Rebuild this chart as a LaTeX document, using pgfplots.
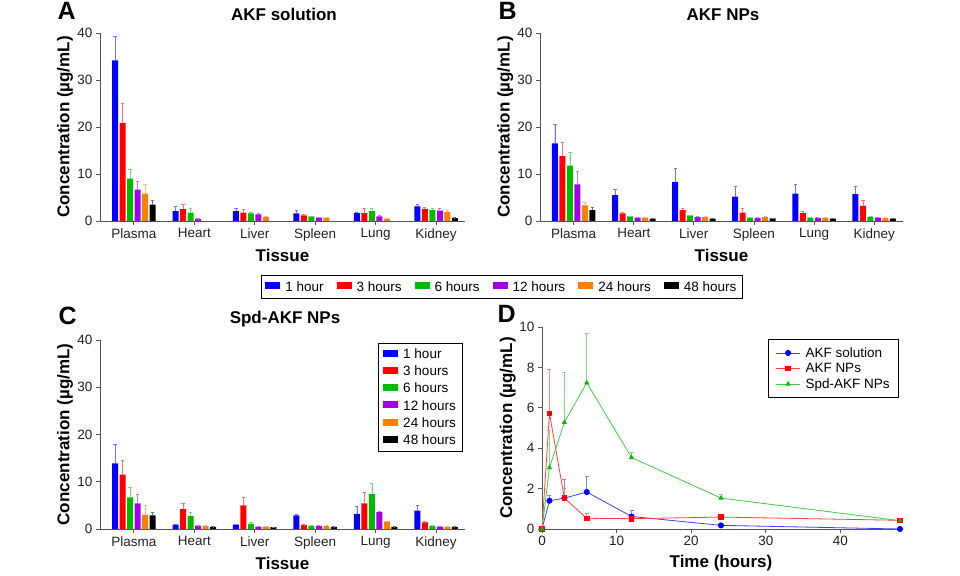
\documentclass[border=0pt]{standalone}
\usepackage{pgfplots}
\pgfplotsset{compat=1.18}
\usepackage{fontspec}
\setmainfont{Liberation Sans}

\definecolor{cblue}{HTML}{0000FF}
\definecolor{cred}{HTML}{FF0000}
\definecolor{cgreen}{HTML}{00BB00}
\definecolor{cpurple}{HTML}{A400E8}
\definecolor{corange}{HTML}{FF8000}
\definecolor{cblack}{HTML}{000000}
\definecolor{axgray}{HTML}{555555}
\definecolor{txt}{HTML}{222222}

\newcommand{\tickfont}{\fontsize{13.5}{15}\selectfont}
\newcommand{\labfont}{\bfseries\fontsize{17}{18}\selectfont}

\pgfplotsset{
  common/.style={
    scale only axis, anchor=south west,
    axis x line*=bottom, axis y line*=left,
    axis line style={draw=axgray, line width=0.8pt},
    tick style={draw=axgray, line width=0.8pt},
    tick align=outside, major tick length=4pt,
    ticklabel style={font=\tickfont, text=txt},
    /pgf/number format/assume math mode=true,
    ylabel={Concentration (µg/mL)},
    ylabel style={at={(axis description cs:-0.096,0.5)}, anchor=center, font=\labfont, text=black},
    error bars/y dir=plus, error bars/y explicit,
  },
  barax/.style={
    common,
    ybar=1.5pt, bar width=6pt,
    ymin=0, ymax=40, ytick={0,10,20,30,40},
    xmin=-0.56, xmax=5.48,
    xtick={0,...,5}, xticklabels={Plasma,Heart,Liver,Spleen,Lung,Kidney},
    xlabel={Tissue},
    xlabel style={at={(axis description cs:0.5,-0.181)}, anchor=center, font=\labfont},
    legend image code/.code={\fill[##1] (0pt,-2.5pt) rectangle (15pt,4.5pt);},
  },
  lineax/.style={
    common,
    legend image code/.code={\draw[##1] (0pt,0pt) -- (24pt,0pt); \draw[##1] plot coordinates {(12pt,0pt)};},
  },
  bs/.style={fill=#1, draw=none,
    error bars/error bar style={draw=#1!55, line width=0.6pt},
    error bars/error mark options={rotate=90, draw=#1!55, mark size=1.6pt, line width=0.6pt}},
  ls/.style={draw=#1!75, line width=0.8pt,
    error bars/error bar style={draw=#1!50, line width=0.6pt},
    error bars/error mark options={rotate=90, draw=#1!50, mark size=2pt, line width=0.6pt}},
}

\begin{document}
\begin{tikzpicture}
\useasboundingbox[fill=white] (0pt,0pt) rectangle (960pt,575pt);

% panel letters and titles
\node[font=\bfseries\fontsize{25}{25}\selectfont, anchor=base west] at (54pt,555pt) {A};
\node[font=\bfseries\fontsize{25}{25}\selectfont, anchor=base west] at (495pt,555pt) {B};
\node[font=\bfseries\fontsize{25}{25}\selectfont, anchor=base west] at (55pt,250pt) {C};
\node[font=\bfseries\fontsize{25}{25}\selectfont, anchor=base west] at (494pt,252pt) {D};
\node[font=\labfont, anchor=base] at (284pt,554pt) {AKF solution};
\node[font=\labfont, anchor=base] at (723pt,554pt) {AKF NPs};
\node[font=\labfont, anchor=base] at (285pt,251pt) {Spd-AKF NPs};

% A: AKF solution
\begin{axis}[barax, at={(100pt,354pt)}, width=365pt, height=188pt,
  legend columns=-1,
  legend style={at={(axis description cs:1.101,-0.351)}, anchor=center,
    draw=black, line width=0.8pt, font=\tickfont, inner ysep=4pt, inner xsep=4pt,
    /tikz/every odd column/.append style={column sep=3pt},
    /tikz/every even column/.append style={column sep=11pt}},
]
\addplot[bs=cblue] coordinates {(0,34.2) +- (0,5.1) (1,2.1) +- (0,1.0) (2,2.1) +- (0,0.7) (3,1.6) +- (0,0.6) (4,1.7) +- (0,0.2) (5,3.1) +- (0,0.4)};
\addplot[bs=cred] coordinates {(0,20.9) +- (0,4.1) (1,2.5) +- (0,1.0) (2,1.8) +- (0,0.7) (3,1.2) +- (0,0.2) (4,1.7) +- (0,0.9) (5,2.6) +- (0,0.3)};
\addplot[bs=cgreen] coordinates {(0,9.0) +- (0,2.1) (1,1.8) +- (0,0.8) (2,1.6) +- (0,0.3) (3,1.0) +- (0,0.1) (4,2.1) +- (0,0.7) (5,2.3) +- (0,0.3)};
\addplot[bs=cpurple] coordinates {(0,6.7) +- (0,1.8) (1,0.4) +- (0,0.1) (2,1.4) +- (0,0.3) (3,0.7) +- (0,0.1) (4,1.0) +- (0,0.2) (5,2.2) +- (0,0.4)};
\addplot[bs=corange] coordinates {(0,5.8) +- (0,2.1) (2,0.8) +- (0,0.2) (3,0.7) +- (0,0.1) (4,0.5) +- (0,0.1) (5,1.9) +- (0,0.4)};
\addplot[bs=cblack] coordinates {(0,3.5) +- (0,0.8) (5,0.6) +- (0,0.1)};
\legend{1 hour,3 hours,6 hours,12 hours,24 hours,48 hours}
\end{axis}

% B: AKF NPs
\begin{axis}[barax, at={(540pt,354pt)}, width=363pt, height=188pt]
\addplot[bs=cblue] coordinates {(0,16.5) +- (0,4.1) (1,5.5) +- (0,1.2) (2,8.3) +- (0,3.0) (3,5.2) +- (0,2.2) (4,5.8) +- (0,2.1) (5,5.7) +- (0,1.7)};
\addplot[bs=cred] coordinates {(0,13.8) +- (0,3.0) (1,1.6) +- (0,0.2) (2,2.3) +- (0,0.3) (3,1.8) +- (0,0.8) (4,1.7) +- (0,0.4) (5,3.2) +- (0,1.1)};
\addplot[bs=cgreen] coordinates {(0,11.8) +- (0,2.9) (1,1.0) +- (0,0.1) (2,1.2) +- (0,0.1) (3,0.7) +- (0,0.1) (4,0.7) +- (0,0.1) (5,0.9) +- (0,0.1)};
\addplot[bs=cpurple] coordinates {(0,7.8) +- (0,2.8) (1,0.7) +- (0,0.1) (2,0.85) +- (0,0.1) (3,0.6) +- (0,0.1) (4,0.6) +- (0,0.1) (5,0.7) +- (0,0.1)};
\addplot[bs=corange] coordinates {(0,3.3) +- (0,0.7) (1,0.7) +- (0,0.1) (2,0.85) +- (0,0.1) (3,0.8) +- (0,0.1) (4,0.7) +- (0,0.1) (5,0.6) +- (0,0.1)};
\addplot[bs=cblack] coordinates {(0,2.3) +- (0,0.7) (1,0.5) +- (0,0.05) (2,0.5) +- (0,0.05) (3,0.55) +- (0,0.05) (4,0.5) +- (0,0.05) (5,0.5) +- (0,0.05)};
\end{axis}

% C: Spd-AKF NPs
\begin{axis}[barax, at={(100pt,46pt)}, width=365pt, height=189pt,
  legend cell align=left,
  legend style={at={(axis description cs:0.995,0.984)}, anchor=north east,
    draw=black, line width=0.8pt, font=\tickfont, row sep=2pt, inner ysep=3pt, inner xsep=5pt,
    /tikz/every odd column/.append style={column sep=3pt}},
]
\addplot[bs=cblue] coordinates {(0,13.9) +- (0,4.1) (1,0.9) +- (0,0.1) (2,0.9) +- (0,0.1) (3,2.9) +- (0,0.3) (4,3.2) +- (0,1.6) (5,3.9) +- (0,1.1)};
\addplot[bs=cred] coordinates {(0,11.5) +- (0,3.0) (1,4.2) +- (0,1.2) (2,5.0) +- (0,1.7) (3,0.8) +- (0,0.1) (4,5.4) +- (0,2.4) (5,1.4) +- (0,0.2)};
\addplot[bs=cgreen] coordinates {(0,6.7) +- (0,2.1) (1,2.8) +- (0,0.7) (2,1.1) +- (0,0.4) (3,0.65) +- (0,0.1) (4,7.4) +- (0,2.3) (5,0.6) +- (0,0.1)};
\addplot[bs=cpurple] coordinates {(0,5.4) +- (0,1.9) (1,0.6) +- (0,0.1) (2,0.5) +- (0,0.1) (3,0.65) +- (0,0.1) (4,3.6) +- (0,0.2) (5,0.5) +- (0,0.1)};
\addplot[bs=corange] coordinates {(0,3.0) +- (0,2.1) (1,0.6) +- (0,0.1) (2,0.5) +- (0,0.1) (3,0.65) +- (0,0.1) (4,1.6) +- (0,0.1) (5,0.5) +- (0,0.1)};
\addplot[bs=cblack] coordinates {(0,2.9) +- (0,0.7) (1,0.45) +- (0,0.05) (2,0.4) +- (0,0.05) (3,0.45) +- (0,0.05) (4,0.45) +- (0,0.05) (5,0.45) +- (0,0.05)};
\legend{1 hour,3 hours,6 hours,12 hours,24 hours,48 hours}
\end{axis}

% D: plasma concentration vs time
\begin{axis}[lineax, at={(542pt,46pt)}, width=358pt, height=202pt,
  xmin=0, xmax=48, ymin=0, ymax=10,
  xtick={0,10,20,30,40}, ytick={0,2,4,6,8,10},
  xlabel={Time (hours)},
  xlabel style={at={(axis description cs:0.5,-0.168)}, anchor=center, font=\labfont},
  clip=false,
  legend cell align=left,
  legend style={at={(axis description cs:0.997,0.941)}, anchor=north east,
    draw=black, line width=0.8pt, font=\tickfont, row sep=0.5pt, inner ysep=6pt, inner xsep=7pt,
    /tikz/every odd column/.append style={column sep=3pt}},
]
\addplot[ls=cblue, mark=*, mark size=2.6pt, mark options={fill=cblue, draw=cblue, solid}] coordinates {(0,0) +- (0,0) (1,1.40) +- (0,0.25) (3,1.53) +- (0,0.94) (6,1.83) +- (0,0.77) (12,0.62) +- (0,0.33) (24,0.18) +- (0,0.05) (48,0.0) +- (0,0)};
\addplot[ls=cred, mark=square*, mark size=2.3pt, mark options={fill=cred, draw=cred}] coordinates {(0,0) +- (0,0) (1,5.72) +- (0,2.19) (3,1.53) +- (0,0.47) (6,0.53) +- (0,0.26) (12,0.51) +- (0,0.05) (24,0.59) +- (0,0.11) (48,0.43) +- (0,0.11)};
\addplot[ls=cgreen, mark=triangle*, mark size=2.2pt, mark options={fill=cgreen, draw=cgreen}] coordinates {(0,0) +- (0,0) (1,3.04) +- (0,1.86) (3,5.28) +- (0,2.47) (6,7.24) +- (0,2.43) (12,3.54) +- (0,0.26) (24,1.53) +- (0,0.17) (48,0.41) +- (0,0.09)};
\legend{AKF solution,AKF NPs,Spd-AKF NPs}
\end{axis}
\end{tikzpicture}
\end{document}
